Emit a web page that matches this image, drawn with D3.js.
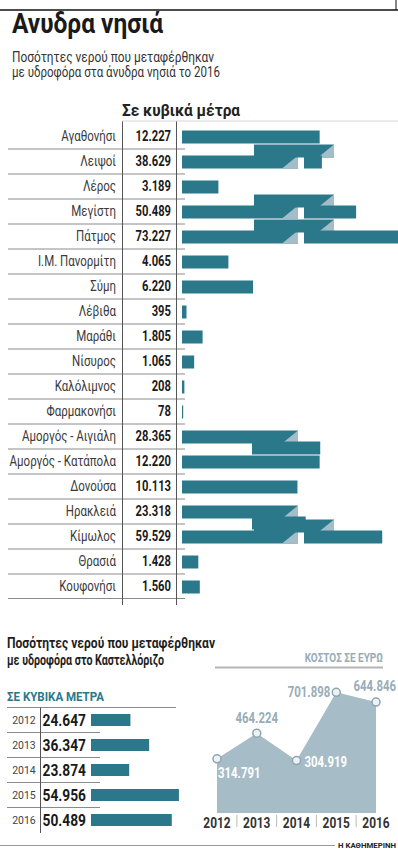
<!DOCTYPE html>
<html>
<head>
<meta charset="utf-8">
<script src="https://cdn.jsdelivr.net/npm/d3@7"></script>
<style>
  html, body { margin: 0; padding: 0; background: #fff; }
  svg { display: block; font-family: Roboto, "Noto Sans", sans-serif; }
</style>
</head>
<body>
<svg id="chart" width="398" height="849"></svg>
<script>
// Islands supplied by water tanker in 2016 (cubic metres)
const islands = ["Αγαθονήσι", "Λειψοί", "Λέρος", "Μεγίστη", "Πάτμος", "Ι.Μ. Πανορμίτη",
  "Σύμη", "Λέβιθα", "Μαράθι", "Νίσυρος", "Καλόλιμνος", "Φαρμακονήσι",
  "Αμοργός - Αιγιάλη", "Αμοργός - Κατάπολα", "Δονούσα", "Ηρακλειά", "Κίμωλος",
  "Θρασιά", "Κουφονήσι"];
const volumes = [12227, 38629, 3189, 50489, 73227, 4065, 6220, 395, 1805, 1065, 208, 78,
  28365, 12220, 10113, 23318, 59529, 1428, 1560];

// Kastellorizo, per year
const kastYears = ["2012", "2013", "2014", "2015", "2016"];
const kastVolumes = [24647, 36347, 23874, 54956, 50489];
const kastCosts = [314791, 464224, 304919, 701898, 644846];

const TEAL = "#2c788b";
const FOLD = "#a3bec8";
const AREA = "#a6bcc7";
const GREYTXT = "#97adb8";

const gr = d3.formatLocale({ decimal: ",", thousands: ".", grouping: [3], currency: ["", "€"] });
const fmt = gr.format(",d");

const svg = d3.select("#chart");

// squeeze text horizontally to imitate a condensed typeface
function squeeze(sel, factor) {
  sel.each(function () {
    const w = this.getComputedTextLength();
    this.setAttribute("textLength", (w * factor).toFixed(1));
    this.setAttribute("lengthAdjust", "spacingAndGlyphs");
  });
}
function fitWidth(sel, width) {
  sel.attr("textLength", width).attr("lengthAdjust", "spacingAndGlyphs");
}

// ---------- header ----------
svg.append("line").attr("x1", 0).attr("x2", 398).attr("y1", 10).attr("y2", 10)
  .attr("stroke", "#111").attr("stroke-width", 1.5);
svg.append("line").attr("x1", 396).attr("x2", 396).attr("y1", 0).attr("y2", 10)
  .attr("stroke", "#111").attr("stroke-width", 1);

svg.append("text").attr("x", 12).attr("y", 33)
  .attr("font-size", 28).attr("font-weight", 700).attr("fill", "#1a1a1a")
  .text("Ανυδρα νησιά").call(fitWidth, 151);
svg.append("text").attr("x", 12).attr("y", 62)
  .attr("font-size", 14).attr("fill", "#333")
  .text("Ποσότητες νερού που μεταφέρθηκαν").call(fitWidth, 202);
svg.append("text").attr("x", 12).attr("y", 77)
  .attr("font-size", 14).attr("fill", "#333")
  .text("με υδροφόρα στα άνυδρα νησιά το 2016").call(fitWidth, 208);

svg.append("text").attr("x", 122).attr("y", 116)
  .attr("font-size", 16).attr("font-weight", 700).attr("fill", "#222")
  .text("Σε κυβικά μέτρα").call(fitWidth, 118);

// ---------- island table ----------
const rowY = d3.scaleBand().domain(islands).range([123.5, 598.5]);
const X0 = 182;
// broken scale: bars beyond the first segment are compressed and folded
const barX = d3.scaleLinear().domain([0, 12000, 74000]).range([0, 137, 316]);
const FOLD_AT = 150, P1 = 116, P2 = 80, SHIFT = 11, BAR_H = 13;

function pieces(L) {
  if (L <= FOLD_AT) return [{ x: 0, len: L, dy: 0, fold: false }];
  const rest = L - P1;
  const b = Math.min(rest, P2), c = rest - b;
  if (c > 0) {
    return [
      { x: 0, len: P1, dy: 0, fold: true },
      { x: 72, len: b, dy: -SHIFT, fold: true },
      { x: P1 + 6, len: c, dy: 0, fold: false }
    ];
  }
  return [
    { x: 0, len: P1, dy: 0, fold: true },
    { x: 70, len: b, dy: SHIFT, fold: false }
  ];
}

const table = svg.append("g");
svg.append("line").attr("x1", 122).attr("x2", 398).attr("y1", 121).attr("y2", 121)
  .attr("stroke", "#d6d6d6").attr("stroke-width", 1);

// row separators
table.selectAll("line.sep").data(islands.slice(1)).join("line")
  .attr("class", "sep")
  .attr("x1", 8).attr("x2", 185)
  .attr("y1", d => rowY(d) + 0.5).attr("y2", d => rowY(d) + 0.5)
  .attr("stroke", "#8a8a8a").attr("stroke-width", 1);
table.append("line").attr("x1", 8).attr("x2", 185)
  .attr("y1", rowY.range()[1]).attr("y2", rowY.range()[1])
  .attr("stroke", "#8a8a8a");
[122.5, 176.5].forEach(x => table.append("line")
  .attr("x1", x).attr("x2", x).attr("y1", 121).attr("y2", 605)
  .attr("stroke", "#555").attr("stroke-width", 1));

const rows = table.selectAll("g.row").data(islands.map((n, i) => ({ name: n, v: volumes[i] })))
  .join("g").attr("class", "row")
  .attr("transform", d => `translate(0,${rowY(d.name) + rowY.bandwidth() / 2})`);

rows.append("text").attr("x", 116).attr("y", 5)
  .attr("text-anchor", "end").attr("font-size", 14).attr("fill", "#3a3a3a")
  .text(d => d.name).call(squeeze, 0.82);
rows.append("text").attr("x", 171).attr("y", 5)
  .attr("text-anchor", "end").attr("font-size", 14).attr("font-weight", 700).attr("fill", "#1a1a1a")
  .text(d => fmt(d.v)).call(squeeze, 0.8);

rows.each(function (d) {
  const g = d3.select(this);
  const L = barX(d.v);
  const ps = pieces(L);
  ps.forEach(p => {
    const top = 1 - BAR_H / 2 + p.dy;
    g.append("rect")
      .attr("x", X0 + p.x).attr("y", top)
      .attr("width", Math.max(1.2, p.len)).attr("height", BAR_H)
      .attr("fill", TEAL);
    if (p.fold) {
      const e = X0 + p.x + p.len;
      g.append("path")
        .attr("d", `M${e - 16},${top + BAR_H}L${e},${top}L${e},${top + BAR_H}Z`)
        .attr("fill", FOLD);
    }
  });
});

// ---------- Kastellorizo ----------
svg.append("text").attr("x", 7).attr("y", 648)
  .attr("font-size", 14).attr("font-weight", 700).attr("fill", "#1e1e1e")
  .text("Ποσότητες νερού που μεταφέρθηκαν").call(fitWidth, 208);
svg.append("text").attr("x", 7).attr("y", 665)
  .attr("font-size", 14).attr("font-weight", 700).attr("fill", "#1e1e1e")
  .text("με υδροφόρα στο Καστελλόριζο").call(fitWidth, 157);

svg.append("text").attr("x", 7).attr("y", 701)
  .attr("font-size", 13).attr("font-weight", 700).attr("fill", TEAL)
  .text("ΣΕ ΚΥΒΙΚΑ ΜΕΤΡΑ").call(fitWidth, 97);

const kRow = d3.scaleBand().domain(kastYears).range([707.5, 832.5]);
const kBar = d3.scaleLinear().domain([0, 55000]).range([0, 88]);
const kg = svg.append("g");
kg.append("line").attr("x1", 7).attr("x2", 176).attr("y1", 707.5).attr("y2", 707.5)
  .attr("stroke", "#8a8a8a");
kg.selectAll("line.sep").data(kastYears.slice(1)).join("line")
  .attr("class", "sep")
  .attr("x1", 7).attr("x2", 100)
  .attr("y1", d => kRow(d)).attr("y2", d => kRow(d))
  .attr("stroke", "#8a8a8a");
kg.append("line").attr("x1", 40.5).attr("x2", 40.5).attr("y1", 707.5).attr("y2", 833)
  .attr("stroke", "#555");

const kRows = kg.selectAll("g.krow").data(kastYears.map((y, i) => ({ y, v: kastVolumes[i] })))
  .join("g").attr("class", "krow")
  .attr("transform", d => `translate(0,${kRow(d.y) + kRow.bandwidth() / 2})`);
kRows.append("text").attr("x", 24).attr("y", 4)
  .attr("text-anchor", "middle").attr("font-size", 11).attr("fill", "#444")
  .text(d => d.y).call(squeeze, 0.95);
kRows.append("text").attr("x", 86).attr("y", 5.5)
  .attr("text-anchor", "end").attr("font-size", 16).attr("font-weight", 700).attr("fill", "#1a1a1a")
  .text(d => fmt(d.v)).call(squeeze, 0.86);
kRows.append("rect").attr("x", 91).attr("y", -6)
  .attr("width", d => kBar(d.v)).attr("height", 12).attr("fill", TEAL);

// cost area chart
svg.append("text")
  .attr("transform", "translate(383,662) scale(0.8,1)")
  .attr("text-anchor", "end")
  .attr("font-size", 12.5).attr("font-weight", 700).attr("fill", GREYTXT)
  .text("ΚΟΣΤΟΣ ΣΕ ΕΥΡΩ");
svg.append("line").attr("x1", 215).attr("x2", 383).attr("y1", 667.5).attr("y2", 667.5)
  .attr("stroke", "#b4b4b4").attr("stroke-width", 2);

const cx = d3.scalePoint().domain(kastYears).range([217, 376]);
const cy = d3.scaleLinear().domain([0, 750000]).range([813, 684]);
const costData = kastYears.map((y, i) => ({ y, v: kastCosts[i] }));

svg.append("path").datum(costData)
  .attr("d", d3.area().x(d => cx(d.y)).y0(cy(0)).y1(d => cy(d.v)))
  .attr("fill", AREA);

svg.selectAll("circle.pt").data(costData).join("circle")
  .attr("class", "pt")
  .attr("cx", d => cx(d.y)).attr("cy", d => cy(d.v)).attr("r", 4)
  .attr("fill", "#eef2f4").attr("stroke", "#8ea4af").attr("stroke-width", 1.5);

// label placement per point: [dx, dy, anchor, light-on-area]
const costLabelPlacement = [
  [1, 19, "start", true],
  [0, -10, "middle", false],
  [8, 6, "start", true],
  [-6, 5, "end", false],
  [20, -11, "end", false]
];
svg.selectAll("text.cost").data(costData).join("text")
  .attr("class", "cost")
  .attr("transform", (d, i) =>
    `translate(${cx(d.y) + costLabelPlacement[i][0]},${cy(d.v) + costLabelPlacement[i][1]}) scale(0.76,1)`)
  .attr("text-anchor", (d, i) => costLabelPlacement[i][2])
  .attr("font-size", 15).attr("font-weight", 700)
  .attr("fill", (d, i) => costLabelPlacement[i][3] ? "#fff" : GREYTXT)
  .text(d => fmt(d.v));

// year axis under the area
svg.selectAll("text.cyear").data(kastYears).join("text")
  .attr("class", "cyear")
  .attr("x", d => cx(d)).attr("y", 828).attr("text-anchor", "middle")
  .attr("font-size", 14).attr("font-weight", 700).attr("fill", "#333")
  .text(d => d).call(squeeze, 0.85);
svg.selectAll("line.ysep").data(kastYears.slice(1)).join("line")
  .attr("class", "ysep")
  .attr("x1", d => cx(d) - cx.step() / 2).attr("x2", d => cx(d) - cx.step() / 2)
  .attr("y1", 815).attr("y2", 827)
  .attr("stroke", "#bbb");

// footer
svg.append("line").attr("x1", 0).attr("x2", 335).attr("y1", 845.5).attr("y2", 845.5)
  .attr("stroke", "#999");
svg.append("text").attr("x", 338).attr("y", 847.5)
  .attr("font-size", 8).attr("font-weight", 700).attr("fill", "#222")
  .text("Η ΚΑΘΗΜΕΡΙΝΗ").call(fitWidth, 58);
</script>
</body>
</html>
